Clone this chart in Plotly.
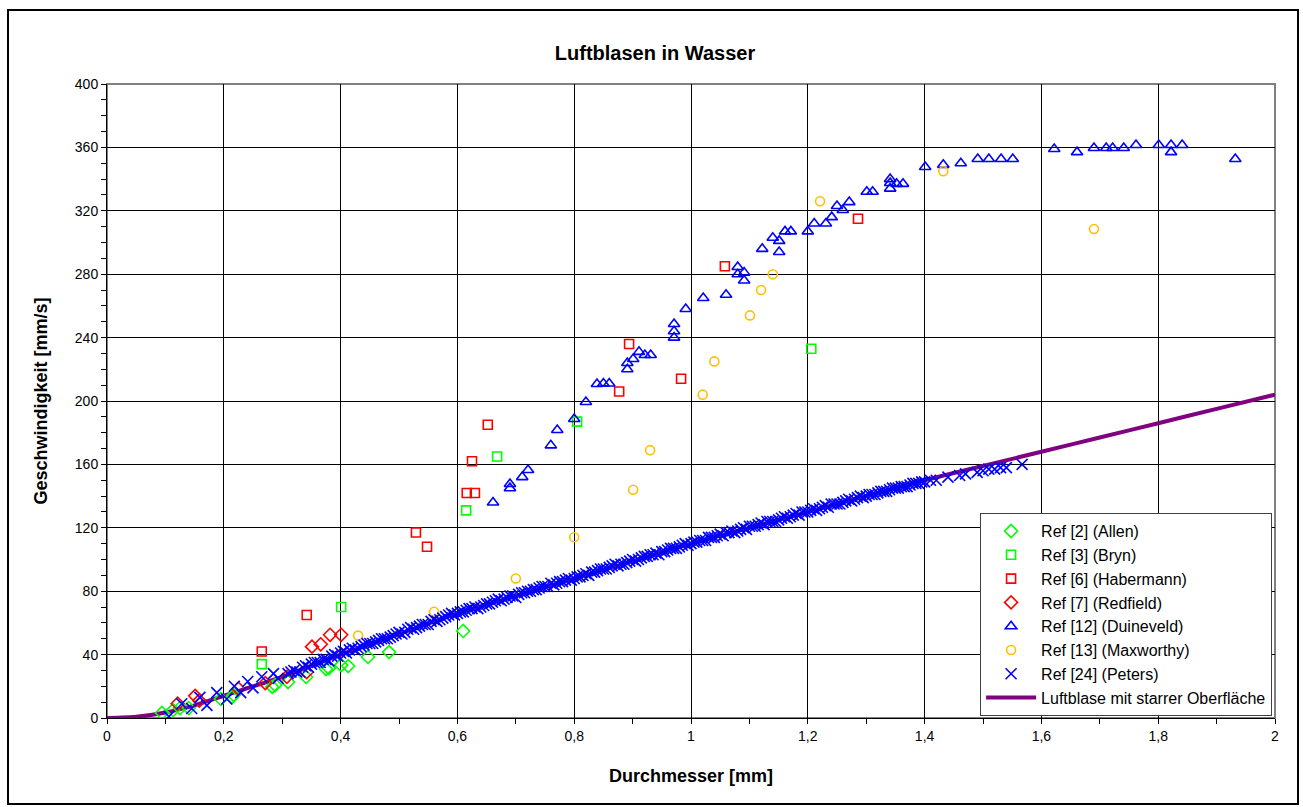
import plotly.graph_objects as go

# ---- measured series: diameter [mm] / velocity [mm/s] ----
allen_d = [0.094, 0.113, 0.125, 0.140, 0.195, 0.214, 0.217, 0.283, 0.288, 0.310,
           0.341, 0.375, 0.380, 0.401, 0.413, 0.447, 0.483, 0.610]
allen_v = [3.2, 5.0, 6.3, 6.3, 12.0, 13.2, 14.5, 19.6, 20.8, 22.7,
           25.9, 30.9, 31.5, 33.4, 32.8, 38.5, 41.6, 54.9]

bryn_d = [0.265, 0.401, 0.615, 0.668, 0.805, 1.206]
bryn_v = [34, 70, 131, 165, 187, 233]

habermann_d = [0.265, 0.342, 0.529, 0.548, 0.616, 0.630, 0.625, 0.652,
               0.877, 0.894, 0.983, 1.058, 1.286]
habermann_v = [42, 65, 117, 108, 142, 142, 162, 185,
               206, 236, 214, 285, 315]

redfield_d = [0.121, 0.151, 0.158, 0.225, 0.271, 0.308, 0.342, 0.351, 0.366, 0.382, 0.401]
redfield_v = [9, 14, 11, 18.5, 22, 26, 29, 45, 46.5, 52.5, 52.5]

duineveld_d = [0.661, 0.690, 0.690, 0.711, 0.721, 0.760, 0.771, 0.800, 0.820, 0.839,
               0.850, 0.860, 0.891, 0.891, 0.901, 0.911, 0.921, 0.931, 0.971, 0.971,
               0.971, 0.991, 1.021, 1.060, 1.080, 1.080, 1.091, 1.091, 1.122, 1.140,
               1.151, 1.151, 1.161, 1.171, 1.200, 1.211, 1.231, 1.241, 1.250, 1.260,
               1.271, 1.301, 1.311, 1.341, 1.341, 1.341, 1.352, 1.363, 1.401, 1.432,
               1.462, 1.491, 1.510, 1.531, 1.551, 1.622, 1.661, 1.690, 1.711, 1.722,
               1.741, 1.762, 1.801, 1.822, 1.822, 1.841, 1.932]
duineveld_v = [136, 145, 147.6, 152, 156.5, 172, 181.7, 188.6, 199.4, 210.7,
               211, 211, 220, 224, 226.5, 231, 229, 229, 240, 244,
               248.6, 258, 265, 267, 284.5, 280, 281, 276, 296, 303,
               301, 294, 307, 307, 307, 312, 312, 316, 323, 320.5,
               325.5, 332, 332, 340, 337.5, 334, 337, 337, 347.6, 349,
               350, 352.7, 352.7, 352.7, 352.7, 359, 357, 359.6, 359.6, 359.6,
               359.6, 361.5, 361.5, 361.5, 357, 361.5, 352.7]

maxworthy_d = [0.430, 0.560, 0.700, 0.800, 0.901, 0.930, 1.020, 1.040, 1.101, 1.120,
               1.140, 1.221, 1.432, 1.690]
maxworthy_v = [52, 67, 88, 114, 144, 169, 204, 225, 254, 270,
               280, 326, 345, 308.5]

peters_d = [0.106, 0.128, 0.145, 0.159, 0.171, 0.188, 0.205, 0.218, 0.229, 0.241,
            0.250, 0.265, 0.285, 0.293,
            0.31, 0.32, 0.33, 0.34, 0.35, 0.36, 0.37, 0.38, 0.39, 0.40,
            0.41, 0.42, 0.43, 0.44, 0.45, 0.46, 0.47, 0.48, 0.49, 0.50,
            0.51, 0.52, 0.53, 0.54, 0.55, 0.56, 0.57, 0.58, 0.59, 0.60,
            0.61, 0.62, 0.63, 0.64, 0.65, 0.66, 0.67, 0.68, 0.69, 0.70,
            0.71, 0.72, 0.73, 0.74, 0.75, 0.76, 0.77, 0.78, 0.79, 0.80,
            0.81, 0.82, 0.83, 0.84, 0.85, 0.86, 0.87, 0.88, 0.89, 0.90,
            0.91, 0.92, 0.93, 0.94, 0.95, 0.96, 0.97, 0.98, 0.99, 1.00,
            1.01, 1.02, 1.03, 1.04, 1.05, 1.06, 1.07, 1.08, 1.09, 1.10,
            1.11, 1.12, 1.13, 1.14, 1.15, 1.16, 1.17, 1.18, 1.19, 1.20,
            1.21, 1.22, 1.23, 1.24, 1.25, 1.26, 1.27, 1.28, 1.29, 1.30,
            1.31, 1.32, 1.33, 1.34, 1.35, 1.36, 1.37, 1.38, 1.39, 1.40,
            1.41, 1.42, 1.44, 1.46, 1.47, 1.49, 1.50, 1.51, 1.52, 1.53,
            1.54, 1.567,
            0.315, 0.325, 0.335, 0.345, 0.355, 0.365, 0.375, 0.385, 0.395, 0.405,
            0.415, 0.425, 0.435, 0.445, 0.455, 0.465, 0.475, 0.485, 0.495, 0.505,
            0.515, 0.525, 0.535, 0.545, 0.555, 0.565, 0.575, 0.585, 0.595, 0.605,
            0.615, 0.625, 0.635, 0.645, 0.655, 0.665, 0.675, 0.685, 0.695, 0.705,
            0.715, 0.725, 0.735, 0.745, 0.755, 0.765, 0.775, 0.785, 0.795, 0.805,
            0.815, 0.825, 0.835, 0.845, 0.855, 0.865, 0.875, 0.885, 0.895, 0.905,
            0.915, 0.925, 0.935, 0.945, 0.955, 0.965, 0.975, 0.985, 0.995, 1.005,
            1.015, 1.025, 1.035, 1.045, 1.055, 1.065, 1.075, 1.085, 1.095, 1.105,
            1.115, 1.125, 1.135, 1.145, 1.155, 1.165, 1.175, 1.185, 1.195, 1.205,
            1.215, 1.225, 1.235, 1.245, 1.255, 1.265, 1.275, 1.285, 1.295, 1.305,
            1.315, 1.325, 1.335, 1.345, 1.355, 1.365, 1.375, 1.385, 1.395]
peters_v = [1, 9, 6, 13, 8, 16, 12, 20, 16, 23,
            19, 26, 28, 25,
            28, 30, 29, 33, 34, 35, 37, 36, 40, 41,
            41, 44, 44, 46, 47, 48, 50, 50, 52, 54,
            54, 57, 57, 59, 59, 62, 62, 64, 66, 66,
            67, 69, 70, 70, 72, 73, 75, 75, 77, 76,
            79, 80, 81, 82, 83, 85, 85, 86, 88, 88,
            89, 91, 92, 93, 94, 95, 97, 97, 98, 100,
            100, 102, 103, 104, 105, 106, 107, 108, 110, 110,
            111, 112, 114, 114, 116, 117, 118, 118, 120, 121,
            121, 123, 124, 124, 125, 127, 127, 129, 130, 130,
            132, 132, 134, 135, 135, 136, 138, 138, 140, 140,
            141, 142, 143, 144, 145, 146, 146, 148, 148, 149,
            150, 150, 152, 153, 154, 155, 156, 157, 157, 158,
            158, 160,
            29, 29, 32, 32, 35, 35, 37, 39, 39, 42,
            43, 43, 45, 47, 47, 49, 50, 51, 53, 53,
            56, 56, 58, 59, 61, 61, 63, 65, 65, 67,
            68, 69, 69, 71, 72, 74, 74, 76, 77, 78,
            79, 80, 81, 83, 83, 84, 86, 87, 87, 89,
            90, 90, 92, 94, 94, 96, 96, 97, 99, 99,
            101, 102, 103, 103, 105, 107, 107, 109, 109, 111,
            112, 112, 114, 115, 115, 117, 117, 119, 119, 121,
            122, 122, 124, 124, 126, 126, 128, 128, 130, 131,
            131, 133, 133, 135, 135, 137, 137, 139, 139, 141,
            141, 143, 143, 145, 145, 146, 147, 148, 149]

# rigid-surface bubble model curve
model_d = [0, 0.05, 0.1, 0.15, 0.2, 0.3, 0.4, 0.5, 0.6, 0.7, 0.8, 0.9, 1.0,
           1.1, 1.2, 1.3, 1.4, 1.5, 1.6, 1.7, 1.8, 1.9, 2.0]
model_v = [0, 0.8, 3.5, 8, 14, 26, 40, 53, 66, 77, 88, 99, 110,
           120, 130, 140, 150, 159, 168, 177, 186, 195, 204]

FONT = "Arial, Liberation Sans, sans-serif"
GREEN = "#00FF00"
RED = "#FF0000"
BLUE = "#0000FF"
GOLD = "#FFC000"
PURPLE = "#800080"

fig = go.Figure()

# model line underneath the markers, listed last in the legend
fig.add_trace(go.Scatter(
    x=model_d, y=model_v, mode="lines", name="Luftblase mit starrer Oberfläche",
    line=dict(color=PURPLE, width=4, shape="spline", smoothing=0.6),
    legendrank=8))


def markers(x, y, name, symbol, color, size, rank, width=1.6):
    fig.add_trace(go.Scatter(
        x=x, y=y, mode="markers", name=name, legendrank=rank,
        marker=dict(symbol=symbol, size=size, color=color,
                    line=dict(color=color, width=width))))


markers(allen_d, allen_v, "Ref [2] (Allen)", "diamond-open", GREEN, 10, 1)
markers(bryn_d, bryn_v, "Ref [3] (Bryn)", "square-open", GREEN, 9, 2)
markers(habermann_d, habermann_v, "Ref [6] (Habermann)", "square-open", RED, 9, 3)
markers(redfield_d, redfield_v, "Ref [7] (Redfield)", "diamond-open", RED, 10, 4)
markers(duineveld_d, duineveld_v, "Ref [12] (Duineveld)", "triangle-up-open", BLUE, 10, 5)
markers(maxworthy_d, maxworthy_v, "Ref [13] (Maxworthy)", "circle-open", GOLD, 9, 6)
markers(peters_d, peters_v, "Ref [24] (Peters)", "x-thin-open", BLUE, 11, 7, width=1.6)

# paper coordinates of the outer chart frame (plot area spans 107..1275 x 84..718 px)
PW, PH = 1168.0, 634.0
fx0, fx1 = (8 - 107) / PW, (1298 - 107) / PW
fy0, fy1 = (718 - 804) / PH, (718 - 10) / PH

fig.update_layout(
    width=1303, height=807,
    margin=dict(l=107, r=28, t=84, b=89),
    paper_bgcolor="white", plot_bgcolor="white",
    separators=",.",
    font=dict(family=FONT, size=14, color="black"),
    title=dict(text="<b>Luftblasen in Wasser</b>", x=(655 - 107) / PW, xref="paper",
               xanchor="center", y=1 - 53 / 807, yanchor="middle",
               font=dict(family=FONT, size=20, color="black")),
    showlegend=True,
    legend=dict(x=0.9975, y=0.003, xanchor="right", yanchor="bottom",
                bgcolor="white", bordercolor="#404040", borderwidth=1,
                font=dict(family=FONT, size=16, color="black"),
                itemwidth=50, tracegroupgap=0),
    shapes=[
        dict(type="rect", xref="paper", yref="paper", x0=0, x1=1, y0=0, y1=1,
             line=dict(color="#808080", width=2), layer="below"),
        dict(type="rect", xref="paper", yref="paper", x0=fx0, x1=fx1, y0=fy0, y1=fy1,
             line=dict(color="black", width=2)),
    ],
)

fig.update_xaxes(
    range=[0, 2], dtick=0.2, tick0=0, showgrid=True, gridcolor="black", gridwidth=1,
    zeroline=False, showline=True, linecolor="black", linewidth=1,
    ticks="outside", ticklen=5, tickcolor="black",
    minor=dict(dtick=0.1, ticks="outside", ticklen=5, tickcolor="black", showgrid=False),
    tickfont=dict(family=FONT, size=14),
    title=dict(text="<b>Durchmesser [mm]</b>", font=dict(family=FONT, size=18), standoff=26),
)
fig.update_yaxes(
    range=[0, 400], dtick=40, tick0=0, showgrid=True, gridcolor="black", gridwidth=1,
    zeroline=False, showline=True, linecolor="black", linewidth=1,
    ticks="outside", ticklen=5, tickcolor="black",
    minor=dict(dtick=10, ticks="outside", ticklen=5, tickcolor="black", showgrid=False),
    tickfont=dict(family=FONT, size=14),
    title=dict(text="<b>Geschwindigkeit [mm/s]</b>", font=dict(family=FONT, size=18), standoff=22),
)

fig.write_html("out.html")
